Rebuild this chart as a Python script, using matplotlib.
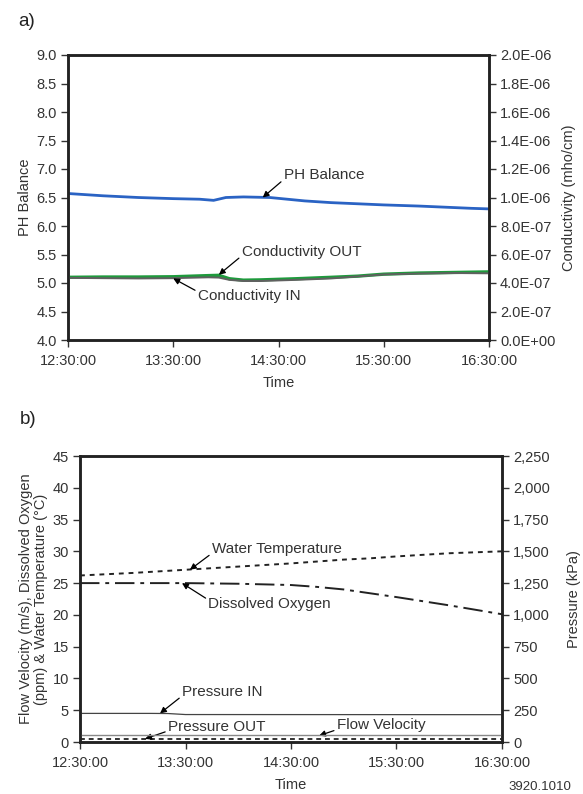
import matplotlib
matplotlib.use("Agg")
import matplotlib.pyplot as plt
from matplotlib.ticker import FuncFormatter, MultipleLocator

plt.rcParams['font.family'] = ['Liberation Sans', 'DejaVu Sans']
plt.rcParams['font.size'] = 10

# ---------------- data ----------------
time_ticks = [0, 60, 120, 180, 240]
time_labels = ["12:30:00", "13:30:00", "14:30:00", "15:30:00", "16:30:00"]

# panel a (minutes after 12:30)
ph_t = [0, 10, 20, 40, 60, 75, 83, 90, 100, 115, 125, 135, 150, 165, 180, 200, 215, 230, 240]
ph_v = [6.57, 6.55, 6.53, 6.50, 6.48, 6.47, 6.45, 6.50, 6.51, 6.50, 6.47, 6.44, 6.41, 6.39, 6.37, 6.35, 6.33, 6.31, 6.30]

cond_t = [0, 20, 40, 60, 80, 86, 92, 100, 110, 130, 150, 165, 180, 200, 220, 240]
cond_out = [4.40e-7, 4.42e-7, 4.42e-7, 4.44e-7, 4.52e-7, 4.54e-7, 4.30e-7, 4.20e-7, 4.22e-7, 4.30e-7, 4.40e-7, 4.48e-7, 4.62e-7, 4.70e-7, 4.74e-7, 4.78e-7]
cond_in = [4.36e-7, 4.34e-7, 4.32e-7, 4.34e-7, 4.40e-7, 4.38e-7, 4.22e-7, 4.14e-7, 4.14e-7, 4.22e-7, 4.32e-7, 4.46e-7, 4.60e-7, 4.66e-7, 4.70e-7, 4.68e-7]

# panel b
b_t = [0, 30, 60, 90, 120, 135, 150, 165, 180, 210, 240]
water_temp = [26.2, 26.6, 27.1, 27.6, 28.1, 28.4, 28.7, 28.9, 29.2, 29.7, 30.0]
diss_oxy = [25.0, 25.0, 25.0, 24.9, 24.7, 24.4, 24.0, 23.4, 22.8, 21.5, 20.1]

p_t = [0, 40, 50, 60, 240]
pressure_in = [225, 225, 224, 216, 215]
pressure_out = [52, 52, 52, 52, 52]
flow_t = [0, 240]
flow_velocity = [0.55, 0.55]

W, H = 583, 794
fig = plt.figure(figsize=(W / 100, H / 100), dpi=100)

spine_c = "#222222"
tick_c = "#333333"
FS = 10.5
AFS = 11


def style(ax):
    for s in ax.spines.values():
        s.set_linewidth(1.8)
        s.set_color(spine_c)
    ax.tick_params(direction='out', length=5, width=1.0, colors=tick_c,
                   labelsize=FS, pad=3)


def fx(px):
    return px / W


def fy(py):
    return 1 - py / H


def arrow(rel):
    return dict(arrowstyle='-|>', color='black', lw=0.9, mutation_scale=9,
                shrinkA=0, shrinkB=0, relpos=rel)


# ---------------- panel a ----------------
axa = fig.add_axes([fx(68), fy(340), fx(489) - fx(68), fy(55) - fy(340)])
style(axa)
axa.set_xlim(0, 240)
axa.set_ylim(4.0, 9.0)
axa.yaxis.set_major_locator(MultipleLocator(0.5))
axa.yaxis.set_major_formatter(FuncFormatter(lambda v, p: f"{v:.1f}"))
axa.set_xticks(time_ticks)
axa.set_xticklabels(time_labels)
axa.tick_params(axis='x', pad=5)
axa.set_xlabel("Time", fontsize=FS, color=tick_c, labelpad=6)
axa.set_ylabel("PH Balance", fontsize=FS, color=tick_c, labelpad=3)
axa.plot(ph_t, ph_v, color="#2a63c4", lw=2.0)

axa2 = axa.twinx()
style(axa2)
axa2.set_ylim(0, 2.0e-6)
axa2.set_yticks([i * 2e-7 for i in range(11)])
axa2.yaxis.set_major_formatter(FuncFormatter(lambda v, p: f"{v:.1E}"))
axa2.set_ylabel("Conductivity (mho/cm)", fontsize=FS, color=tick_c, labelpad=5)
axa2.plot(cond_t, cond_out, color="#1e9a3c", lw=2.4)
axa2.plot(cond_t, cond_in, color="#606060", lw=1.4)

axa.annotate("PH Balance", xy=(111, 6.50), xytext=(123, 6.89), fontsize=AFS,
             color=tick_c, arrowprops=arrow((0, 0.2)), va='center')
axa2.annotate("Conductivity OUT", xy=(86, 4.58e-7), xytext=(99, 6.2e-7), fontsize=AFS,
              color=tick_c, arrowprops=arrow((0, 0.2)), va='center')
axa2.annotate("Conductivity IN", xy=(60, 4.32e-7), xytext=(74, 3.09e-7), fontsize=AFS,
              color=tick_c, arrowprops=arrow((0, 0.8)), va='center')

# ---------------- panel b ----------------
axb = fig.add_axes([fx(80), fy(742), fx(502) - fx(80), fy(456) - fy(742)])
style(axb)
axb.set_xlim(0, 240)
axb.set_ylim(0, 45)
axb.yaxis.set_major_locator(MultipleLocator(5))
axb.set_xticks(time_ticks)
axb.set_xticklabels(time_labels)
axb.tick_params(axis='x', pad=5)
axb.set_xlabel("Time", fontsize=FS, color=tick_c, labelpad=6)
axb.set_ylabel("Flow Velocity (m/s), Dissolved Oxygen\n(ppm) & Water Temperature (°C)",
               fontsize=FS, color=tick_c, labelpad=3, linespacing=1.15)
axb.plot(b_t, water_temp, color="#222222", lw=1.4, linestyle=(0, (2.5, 2.5)))
axb.plot(b_t, diss_oxy, color="#222222", lw=1.4, linestyle=(0, (10, 3, 2, 3)))
axb.plot(flow_t, flow_velocity, color="#333333", lw=1.4, linestyle=(0, (2.5, 2.0)))

axb2 = axb.twinx()
style(axb2)
axb2.set_ylim(0, 2250)
axb2.set_yticks(list(range(0, 2251, 250)))
axb2.yaxis.set_major_formatter(FuncFormatter(lambda v, p: f"{v:,.0f}"))
axb2.set_ylabel("Pressure (kPa)", fontsize=FS, color=tick_c, labelpad=12)
axb2.plot(p_t, pressure_in, color="#444444", lw=0.9)
axb2.plot(p_t, pressure_out, color="#888888", lw=1.0)

axb.annotate("Water Temperature", xy=(62.5, 27.1), xytext=(75, 30.35), fontsize=AFS,
             color=tick_c, arrowprops=arrow((0, 0.2)), va='center')
axb.annotate("Dissolved Oxygen", xy=(58, 25.0), xytext=(73, 21.7), fontsize=AFS,
             color=tick_c, arrowprops=arrow((0, 0.8)), va='center')
axb.annotate("Pressure IN", xy=(45.5, 4.5), xytext=(58, 7.9), fontsize=AFS,
             color=tick_c, arrowprops=arrow((0, 0.2)), va='center')
axb.annotate("Pressure OUT", xy=(37, 0.5), xytext=(50, 2.4), fontsize=AFS,
             color=tick_c, arrowprops=arrow((0, 0.2)), va='center')
axb.annotate("Flow Velocity", xy=(136, 1.0), xytext=(146, 2.6), fontsize=AFS,
             color=tick_c, arrowprops=arrow((0, 0.2)), va='center')

fig.text(fx(18), fy(22), "a)", fontsize=13.5, color="#222222", va='center')
fig.text(fx(20), fy(420), "b)", fontsize=13.5, color="#222222", va='center')
fig.text(fx(508), fy(787), "3920.1010", fontsize=9.5, color="#333333", va='center')

fig.savefig("out.png", dpi=100)
